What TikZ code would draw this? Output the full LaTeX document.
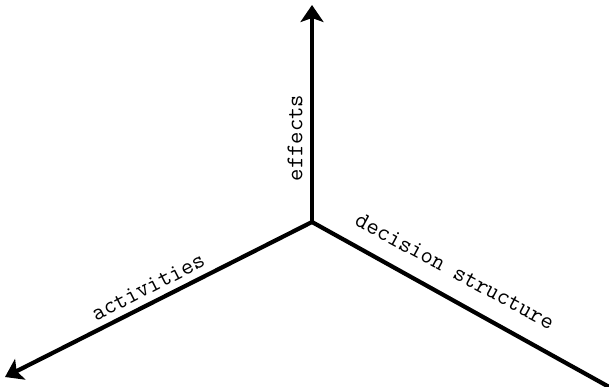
\documentclass[tikz,border=0pt]{standalone}
\usetikzlibrary{arrows.meta}
\begin{document}
\begin{tikzpicture}[x=1pt,y=-1pt,
  axis/.style={line width=4.2pt,-{Stealth[length=17pt,width=23pt,inset=4pt]}},
  lbl/.style={font=\ttfamily\fontsize{24}{24}\selectfont,inner sep=0pt}]
\useasboundingbox (0,0) rectangle (609,387);
\clip (0,0) rectangle (609,387);
\coordinate (O) at (312,222);
\coordinate (T) at (312,5);
\coordinate (L) at (5,377);
\coordinate (R) at (620,393);
\draw[axis] (O) -- (T);
\draw[axis] (O) -- (L);
\draw[axis] (O) -- (R);
\node[lbl,rotate=90] (eff) at (295,138) {effects};
\node[lbl,rotate=27] (act) at (148,287) {activities};
\node[lbl,rotate=-28.3] (dec) at (455,271) {decision structure};
\end{tikzpicture}
\end{document}
